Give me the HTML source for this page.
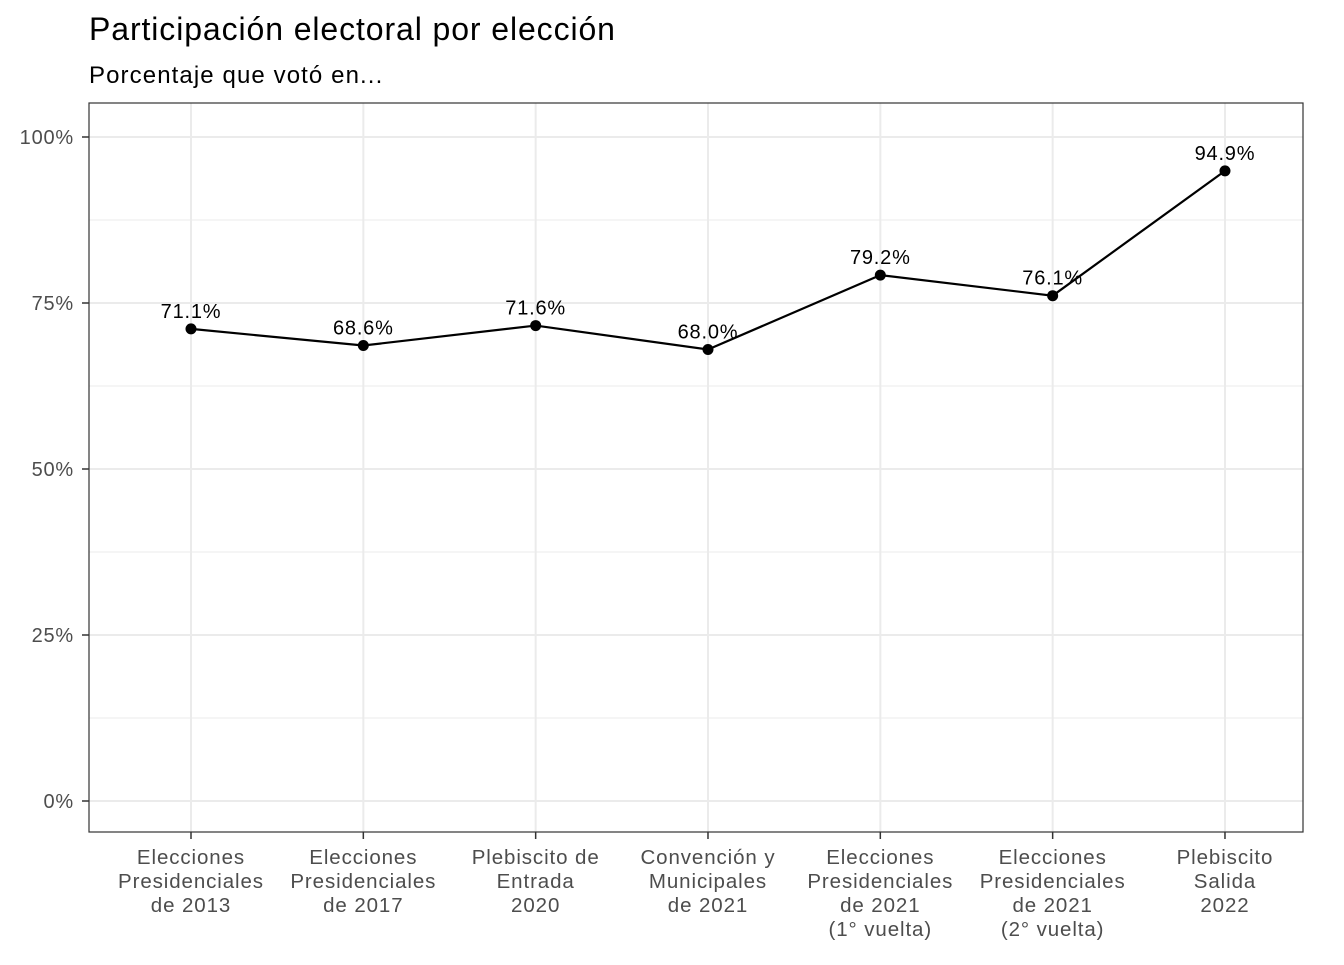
<!DOCTYPE html>
<html><head><meta charset="utf-8"><style>
body{margin:0;background:#fff;}
svg text{font-family:"Liberation Sans",Arial,sans-serif;}
</style></head><body>
<svg id="chart" width="1344" height="960" xmlns="http://www.w3.org/2000/svg">
<text x="89" y="40" font-size="32" letter-spacing="0.9" fill="#000">Participación electoral por elección</text>
<text x="89" y="83" font-size="24" letter-spacing="1.1" fill="#000">Porcentaje que votó en...</text>
<g id="grid"></g>
<g id="marks"></g>
<rect x="89" y="103" width="1214" height="729" fill="none" stroke="#333" stroke-width="1.2"/>
<g id="axes"></g>
</svg>
<script>
const categories=[["Elecciones","Presidenciales","de 2013"],["Elecciones","Presidenciales","de 2017"],["Plebiscito de","Entrada","2020"],["Convención y","Municipales","de 2021"],["Elecciones","Presidenciales","de 2021","(1° vuelta)"],["Elecciones","Presidenciales","de 2021","(2° vuelta)"],["Plebiscito","Salida","2022"]];
const values=[71.1,68.6,71.6,68.0,79.2,76.1,94.9];
const yTicks=[0,25,50,75,100];
const yMinor=[12.5,37.5,62.5,87.5];
const NS="http://www.w3.org/2000/svg";
const x=i=>191+i*172.33;
const y=v=>801-v*6.64;
function mk(tag,attrs,parent){const e=document.createElementNS(NS,tag);for(const k in attrs)e.setAttribute(k,attrs[k]);parent.appendChild(e);return e;}
const grid=document.getElementById('grid'),marks=document.getElementById('marks'),axes=document.getElementById('axes');
yMinor.forEach(v=>{const l=mk('line',{x1:89,x2:1303,y1:y(v),y2:y(v),stroke:'#ebebeb','stroke-width':1},grid);

});
yTicks.forEach(v=>{const l=mk('line',{x1:89,x2:1303,y1:y(v),y2:y(v),stroke:'#ebebeb','stroke-width':2},grid);


const t=mk('line',{x1:82,x2:89,y1:y(v),y2:y(v),stroke:'#333','stroke-width':1.5},axes);


const tx=mk('text',{x:74,y:y(v)+7,'text-anchor':'end','font-size':20,'letter-spacing':0.8,fill:'#4d4d4d'},axes);tx.textContent=v+'%';

});
categories.forEach((c,i)=>{const l=mk('line',{x1:x(i),x2:x(i),y1:103,y2:832,stroke:'#ebebeb','stroke-width':2},grid);


const t=mk('line',{x1:x(i),x2:x(i),y1:832,y2:839,stroke:'#333','stroke-width':1.5},axes);


const tx=mk('text',{x:x(i),y:864,'text-anchor':'middle','font-size':20.5,'letter-spacing':0.9,fill:'#4d4d4d'},axes);


c.forEach((s,j)=>{const ts=mk('tspan',{x:x(i),dy:j?24:0},tx);ts.textContent=s;});});
const pl=mk('polyline',{points:values.map((v,i)=>x(i)+','+y(v)).join(' '),fill:'none',stroke:'#000','stroke-width':2.2},marks);


values.forEach((v,i)=>{const c=mk('circle',{cx:x(i),cy:y(v),r:5.5,fill:'#000'},marks);


const t=mk('text',{x:x(i),y:y(v)-11,'text-anchor':'middle','font-size':20,'letter-spacing':0.8,fill:'#000'},marks);t.textContent=v.toFixed(1)+'%';

});
</script>
</body></html>
